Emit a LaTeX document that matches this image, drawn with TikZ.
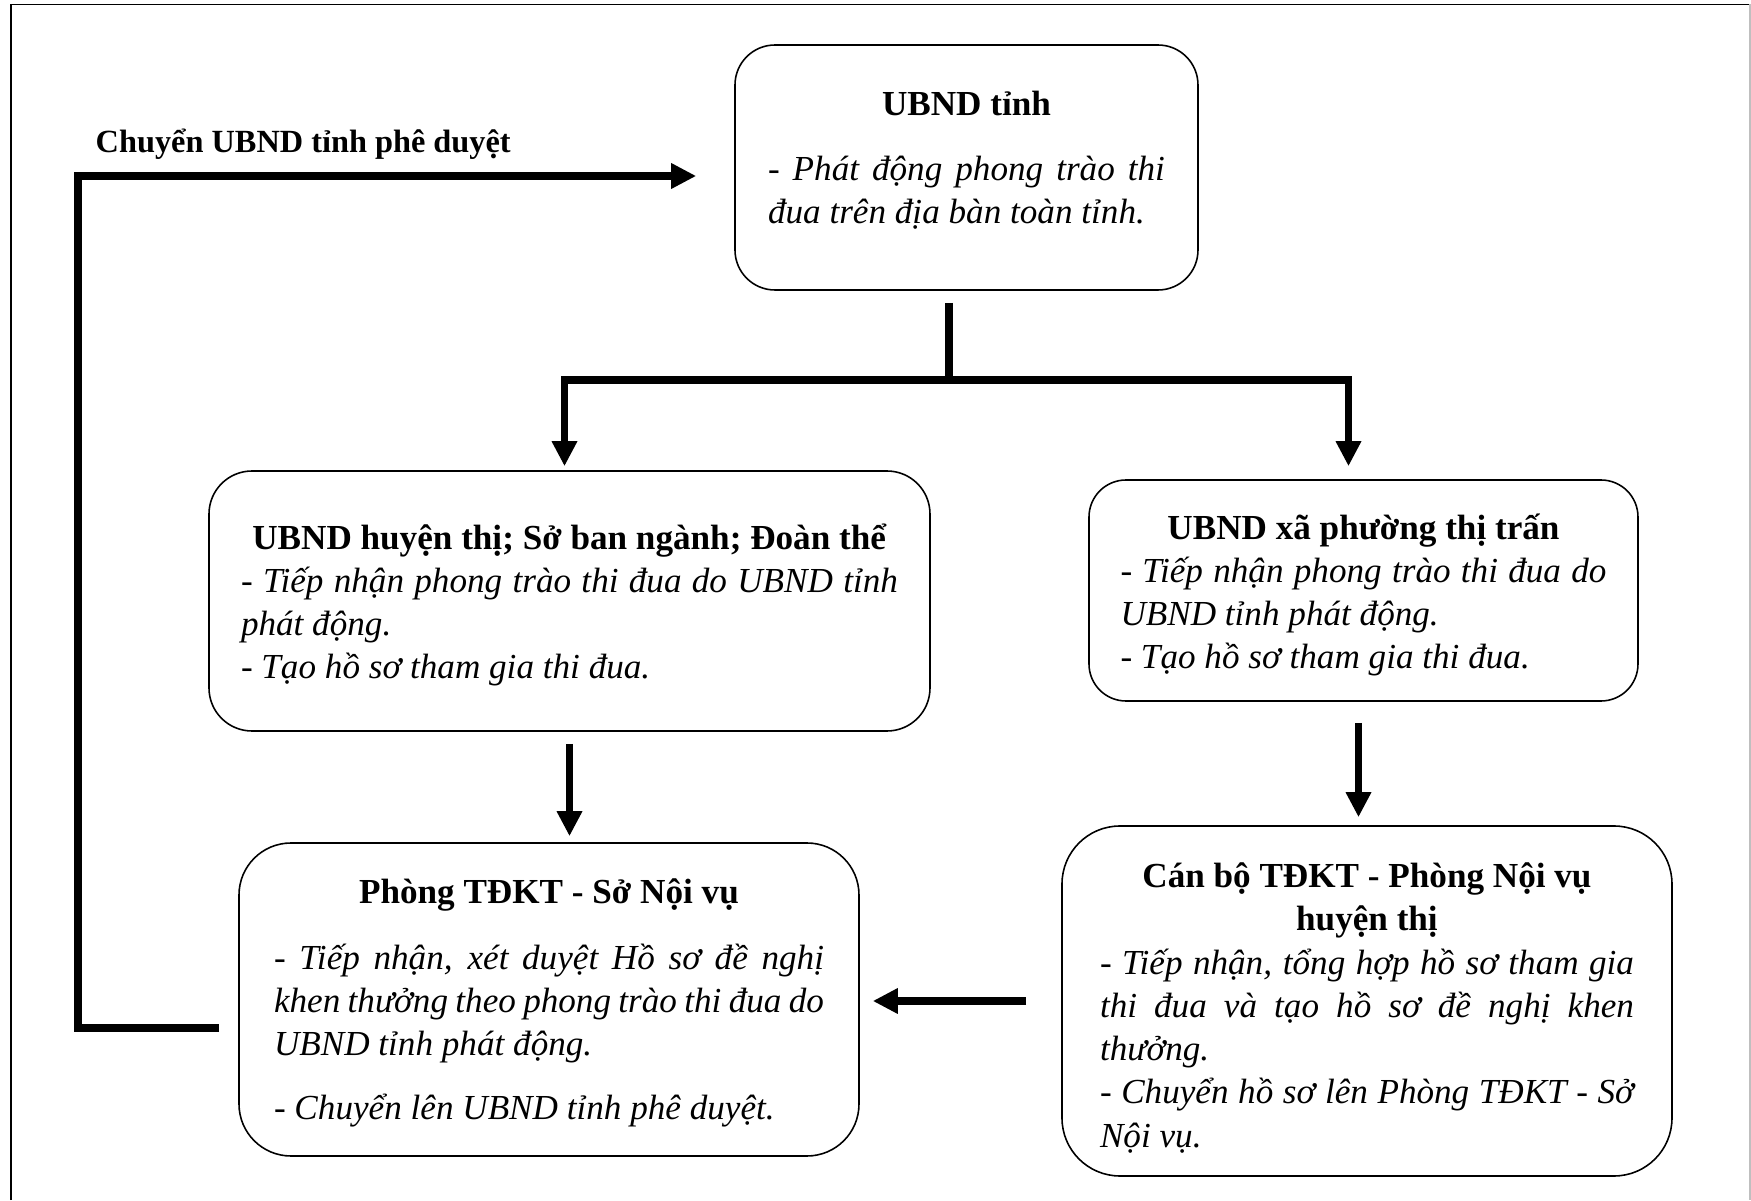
\documentclass[tikz,border=0pt]{standalone}
\usepackage{fontspec}
\setmainfont{Liberation Serif}
\usetikzlibrary{arrows.meta,calc}
\tikzset{
	stepbox/.style={draw, line width=0.45pt, align=justify, inner xsep=0pt, font=\fontsize{10}{12.3}\selectfont},
	link/.style={line width=0.75mm, line join=miter},
	flow/.style={link, -{Triangle[length=2.5mm,width=2.4mm]}},
}
% invisible struts that set the top and the bottom of a box text
\newcommand{\toprule}[1]{\rule{0pt}{#1}}
\newcommand{\botrule}[1]{\rule[-#1]{0pt}{0pt}}

\begin{document}
\begin{tikzpicture}
	%%%%% START %%%%%
	\useasboundingbox (0,0) rectangle (17.51,12);
	\draw[line width=0.5pt] (0.11,0) -- (0.11,11.955) -- (17.5,11.955);
	\draw[line width=0.5pt, black!25] (17.5,11.955) -- (17.5,0);
	
	\node[stepbox, text width=3.97cm, minimum width=4.63cm, minimum height=2.45cm, rounded corners=4mm] (tinh) at (9.665,10.325)
		{{\centering\toprule{4mm}\textbf{UBND tỉnh}\par}\vspace{2.2mm}
		{\itshape - Phát động phong trào thi\linebreak đua trên địa bàn toàn tỉnh.\botrule{3.6mm}\par}};
	
	\node[stepbox, text width=6.57cm, minimum width=7.21cm, minimum height=2.6cm, rounded corners=4.3mm] (huyen) at (5.695,5.99)
		{{\centering\toprule{4.13mm}\textbf{UBND huyện thị; Sở ban ngành; Đoàn thể}\par}
		{\itshape - Tiếp nhận phong trào thi đua do UBND tỉnh\linebreak phát động.\par
		- Tạo hồ sơ tham gia thi đua.\botrule{1.5mm}\par}};
	
	\node[stepbox, text width=4.86cm, minimum width=5.49cm, minimum height=2.21cm, rounded corners=3.7mm] (xa) at (13.635,6.095)
		{{\centering\toprule{4.23mm}\textbf{UBND xã phường thị trấn}\par}
		{\itshape - Tiếp nhận phong trào thi đua do\linebreak UBND tỉnh phát động.\par
		- Tạo hồ sơ tham gia thi đua.\botrule{1.5mm}\par}};
	
	\node[stepbox, text width=5.5cm, minimum width=6.2cm, minimum height=3.13cm, rounded corners=5.2mm] (tdkt) at (5.49,2.005)
		{{\centering\toprule{3.9mm}\textbf{Phòng TĐKT - Sở Nội vụ}\par}\vspace{2.3mm}
		{\itshape - Tiếp nhận, xét duyệt Hồ sơ đề nghị\linebreak khen thưởng theo phong trào thi đua do\linebreak UBND tỉnh phát động.\par\vspace{2.1mm}
		- Chuyển lên UBND tỉnh phê duyệt.\botrule{1.5mm}\par}};
	
	\node[stepbox, text width=5.34cm, minimum width=6.1cm, minimum height=3.5cm, rounded corners=5.8mm] (canbo) at (13.67,1.99)
		{{\centering\toprule{4.79mm}\textbf{Cán bộ TĐKT - Phòng Nội vụ\\huyện thị}\par}
		{\itshape - Tiếp nhận, tổng hợp hồ sơ tham gia\linebreak thi đua và tạo hồ sơ đề nghị khen\linebreak thưởng.\par
		- Chuyển hồ sơ lên Phòng TĐKT - Sở\linebreak Nội vụ.\botrule{1.5mm}\par}};
	
	\node[anchor=west, inner sep=0pt, font=\bfseries\fontsize{9.2}{11}\selectfont] (duyet) at (0.95,10.56) {Chuyển UBND tỉnh phê duyệt};
	
	\coordinate (fork) at (9.49,8.2);
	\coordinate (turn) at (0.78,10.24);
	
	\draw[link, shorten <=1.2mm] (tinh.south -| fork) -- (fork);
	\draw[flow, shorten >=0.4mm] (fork) -| ([xshift=-0.5mm]huyen.north);
	\draw[flow, shorten >=1.3mm] (fork) -| ([xshift=-1.5mm]xa.north);
	\draw[flow, shorten <=1.2mm, shorten >=0.6mm] (huyen.south) -- (huyen.south |- tdkt.north);
	\draw[flow, shorten <=2.1mm, shorten >=0.8mm] ([xshift=-0.5mm]xa.south) -- ([xshift=-0.5mm]xa.south |- canbo.north);
	\draw[flow, shorten <=3.5mm, shorten >=1.3mm] (canbo.west) -- (canbo.west -| tdkt.east);
	\draw[flow, shorten <=1.9mm, shorten >=3.8mm] ([yshift=-2.85mm]tdkt.west) -| (turn) -- (turn -| tinh.west);
	
	%%%%% END %%%%%
\end{tikzpicture}
\end{document}
